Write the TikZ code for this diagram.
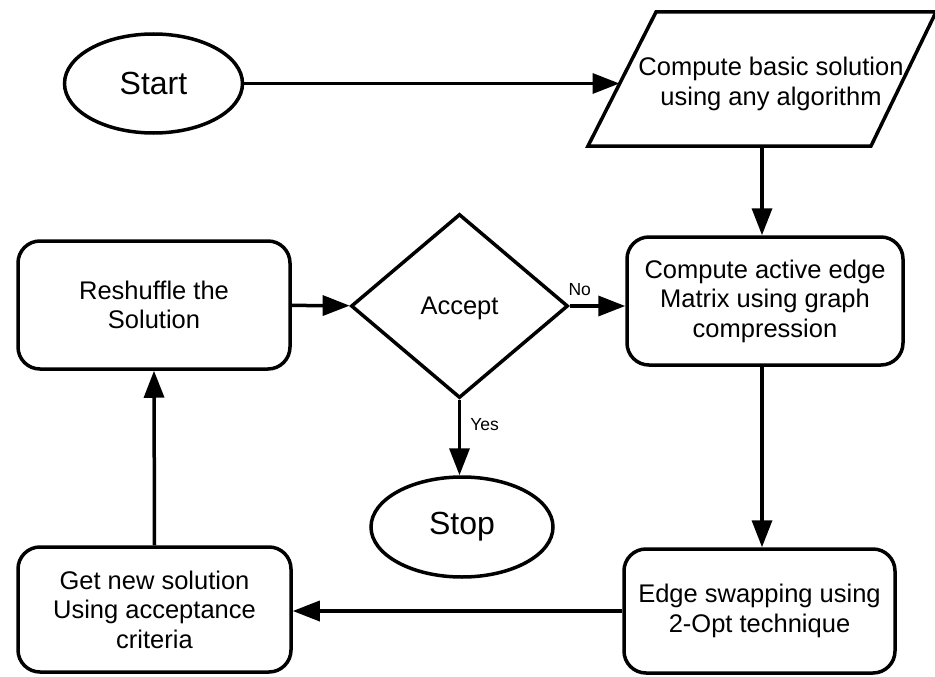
\documentclass[tikz,border=0pt]{standalone}
\usepackage{fontspec}
\setmainfont{Liberation Sans}
\usetikzlibrary{shapes.geometric,arrows.meta}
\begin{document}
\begin{tikzpicture}[x=1pt,y=-1pt,
  every node/.style={font=\fontsize{25.5}{29.5}\selectfont, align=center, inner sep=0pt},
  box/.style={draw, line width=3.5pt, rounded corners=22pt},
  oval/.style={draw, ellipse, line width=3.5pt, font=\fontsize{32}{36}\selectfont},
  arr/.style={line width=3.5pt, -{Triangle[length=27pt,width=20pt]}},
  lbl/.style={font=\fontsize{17.5}{20}\selectfont}]
\useasboundingbox (0,0) rectangle (935,677);
\node[oval, minimum width=178, minimum height=99] (start) at (153.5,83.5) {Start};
% parallelogram
\draw[line width=3.5pt, line join=miter] (656,12) -- (936,12) -- (871,146) -- (588,146) -- cycle;
\node (para) at (771,84) {Compute basic solution\\using any algorithm};
\coordinate (paraL) at (619.5,83.5);
\coordinate (paraB) at (762,146);
\node[box, minimum width=276, minimum height=128] (active) at (765,301)
  {Compute active edge\\Matrix using graph\\compression};
\node[draw, diamond, line width=3.5pt, minimum width=217, minimum height=184, text depth=0pt] (accept) at (459.5,306) {Accept};
\node[box, minimum width=272, minimum height=128] (reshuffle) at (154,305) {Reshuffle the\\Solution};
\node[oval, minimum width=182, minimum height=100] (stop) at (462,527) {Stop};
\node[box, minimum width=271, minimum height=124] (edge) at (759.5,611) {Edge swapping using\\2-Opt technique};
\node[box, minimum width=273, minimum height=125] (getnew) at (154.5,609.5) {Get new solution\\Using acceptance\\criteria};
\draw[arr] (start.east |- paraL) -- (paraL);
\draw[arr] (paraB) -- (paraB |- active.north);
\draw[arr] (reshuffle) -- (accept);
\draw[arr] (accept.east) -- (accept.east -| active.west) node[lbl, pos=0.18, above=9pt] (no) {No};
\draw[arr] (accept.south) -- (accept.south |- stop.north) node[lbl, pos=0.33, right=9pt] (yes) {Yes};
\draw[arr] (paraB |- active.south) -- (paraB |- edge.north);
\draw[arr] (edge.west) -- (edge.west -| getnew.east);
\draw[arr] (getnew.north) -- (reshuffle.south);
\end{tikzpicture}
\end{document}
